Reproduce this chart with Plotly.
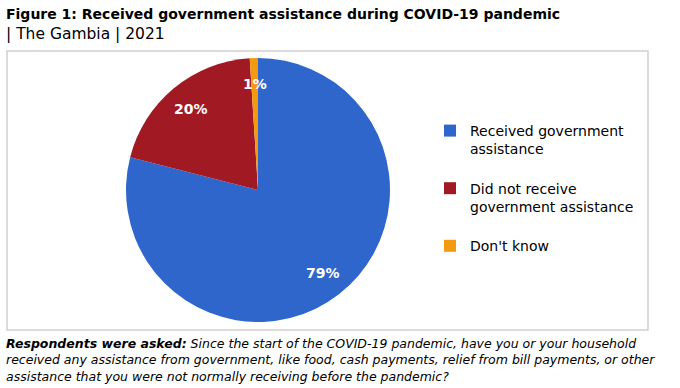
import math
import plotly.graph_objects as go

labels = ["Received government assistance", "Did not receive government assistance", "Don't know"]
legend_labels = ["Received government<br>assistance<br> ", "Did not receive<br>government assistance<br> ", "Don't know"]
values = [79, 20, 1]
colors = ["#2E66CC", "#A11A23", "#F29A12"]

title_main = "Figure 1: Received government assistance during COVID-19 pandemic"
title_sub = "| The Gambia | 2021"
footnote = ("<b>Respondents were asked:</b> Since the start of the COVID-19 pandemic, have you or your household<br>"
            "received any assistance from government, like food, cash payments, relief from bill payments, or other<br>"
            "assistance that you were not normally receiving before the pandemic?")

W, H = 680, 388
FONT = "DejaVu Sans"

# pie geometry (pixels)
CX, CY, R = 258, 190, 132

fig = go.Figure(go.Pie(
    labels=legend_labels, values=values, marker=dict(colors=colors, line=dict(width=0)),
    customdata=labels,
    sort=False, direction="clockwise", rotation=0,
    textinfo="none",
    domain=dict(x=[(CX - R) / W, (CX + R) / W], y=[(H - CY - R) / H, (H - CY + R) / H]),
    hovertemplate="%{customdata}: %{value}%<extra></extra>",
))

annotations = []
total = sum(values)
cum = 0
for v in values:
    mid = (cum + v / 2) / total * 2 * math.pi
    cum += v
    px = CX + 0.8 * R * math.sin(mid)
    py = CY - 0.8 * R * math.cos(mid)
    annotations.append(dict(text="<b>%d%%</b>" % v, x=px / W, y=1 - py / H, xref="paper", yref="paper",
                            xanchor="center", yanchor="middle",
                            showarrow=False, font=dict(size=14, family=FONT, color="white")))

annotations += [
    dict(text="<b>" + title_main + "</b>", x=4 / W, y=1 - 4 / H, xref="paper", yref="paper",
         xanchor="left", yanchor="top", showarrow=False, font=dict(size=14, family=FONT)),
    dict(text=title_sub, x=4 / W, y=1 - 23 / H, xref="paper", yref="paper",
         xanchor="left", yanchor="top", showarrow=False, font=dict(size=15.5, family=FONT)),
    dict(text="<i>" + footnote + "</i>", x=4 / W, y=1 - 334 / H, xref="paper", yref="paper",
         xanchor="left", yanchor="top", showarrow=False, align="left",
         font=dict(size=12.5, family=FONT)),
]

fig.update_layout(
    width=W, height=H, margin=dict(l=0, r=0, t=0, b=0),
    paper_bgcolor="white", plot_bgcolor="white",
    font=dict(family=FONT, color="black"),
    showlegend=True,
    legend=dict(x=430 / W, y=1 - 115 / H, xanchor="left", yanchor="top", valign="top",
                font=dict(size=14, family=FONT, color="black"),
                itemwidth=30, traceorder="normal", bgcolor="rgba(0,0,0,0)"),
    shapes=[dict(type="rect", xref="paper", yref="paper",
                 x0=7 / W, x1=648 / W, y0=1 - 330 / H, y1=1 - 51 / H,
                 line=dict(color="#CFCFCF", width=1.5), fillcolor="rgba(0,0,0,0)", layer="below")],
    annotations=annotations,
)

fig.write_html("out.html", config={"displayModeBar": False},
               post_script="document.body.style.margin='0';")
